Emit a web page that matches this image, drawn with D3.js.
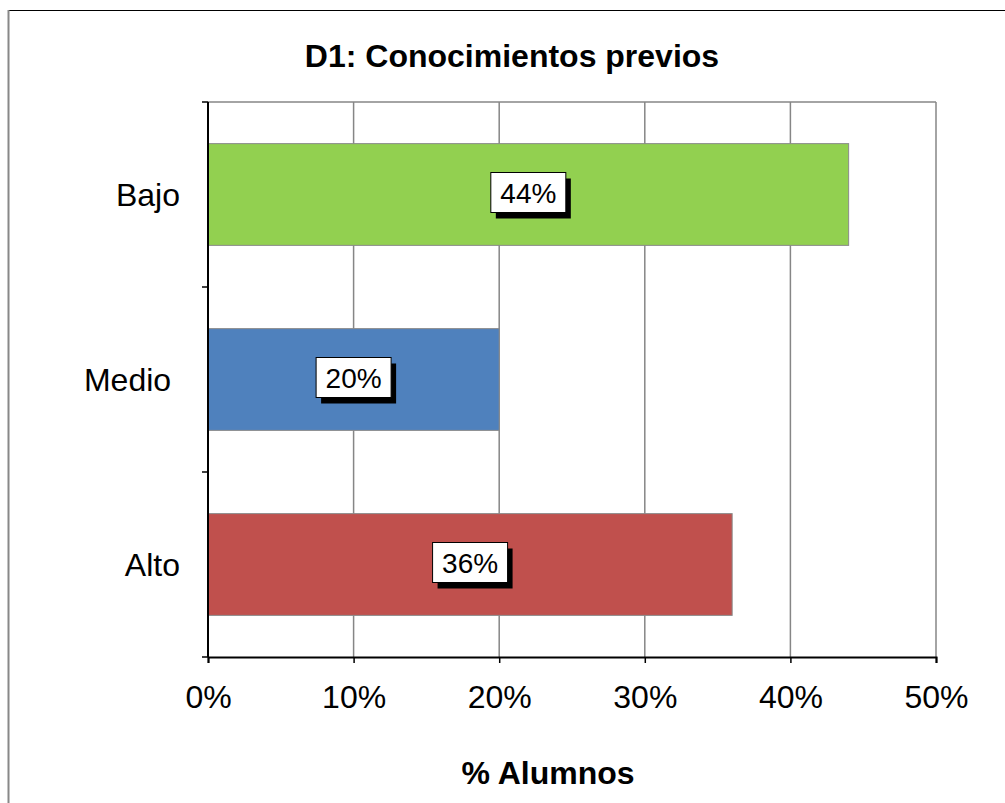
<!DOCTYPE html>
<html>
<head>
<meta charset="utf-8">
<script src="https://cdn.jsdelivr.net/npm/d3@7/dist/d3.min.js"></script>
<style>
  html, body { margin: 0; padding: 0; background: #fff; }
  svg { display: block; font-family: Arial, "Liberation Sans", sans-serif; }
</style>
</head>
<body>
<svg id="chart" width="1005" height="803"></svg>
<script>
// Student share per prior-knowledge level
const categories = ["Bajo", "Medio ", "Alto"];
const values = [0.44, 0.20, 0.36];
const barColors = ["#92D050", "#4F81BD", "#C0504D"];
const xTicks = [0, 0.1, 0.2, 0.3, 0.4, 0.5];
const titleText = "D1: Conocimientos previos";
const xAxisTitle = "% Alumnos";

const svg = d3.select("#chart");
const plot = { left: 208, right: 936, top: 102, bottom: 657 };
const axisFont = 32, labelFont = 28;

// outer chart frame
svg.append("line").attr("x1", 8).attr("x2", 1005).attr("y1", 10.5).attr("y2", 10.5)
  .attr("stroke", "#000").attr("stroke-width", 1);
svg.append("line").attr("x1", 8.5).attr("x2", 8.5).attr("y1", 10).attr("y2", 803)
  .attr("stroke", "#888").attr("stroke-width", 2);

const x = d3.scaleLinear().domain([0, 0.5]).range([plot.left, plot.right]);
const y = d3.scaleBand().domain(categories).range([plot.top, plot.bottom]).paddingInner(0.45).paddingOuter(0.225);

// gridlines
svg.append("g").selectAll("line").data(xTicks.slice(1)).join("line")
  .attr("x1", d => x(d)).attr("x2", d => x(d))
  .attr("y1", plot.top).attr("y2", plot.bottom)
  .attr("stroke", "#868686").attr("stroke-width", 1.5);
svg.append("line").attr("x1", plot.left).attr("x2", plot.right)
  .attr("y1", plot.top).attr("y2", plot.top)
  .attr("stroke", "#868686").attr("stroke-width", 1.5);

// bars
svg.append("g").selectAll("rect").data(categories).join("rect")
  .attr("x", x(0))
  .attr("y", d => y(d))
  .attr("width", (d, i) => x(values[i]) - x(0))
  .attr("height", y.bandwidth())
  .attr("fill", (d, i) => barColors[i])
  .attr("stroke", "#8a8a8a").attr("stroke-width", 1);

// axes
const xAxis = d3.axisBottom(x).tickValues(xTicks).tickFormat(d3.format(".0%")).tickSize(6).tickPadding(22);
const gx = svg.append("g").attr("transform", `translate(0,${plot.bottom})`).call(xAxis);
gx.select(".domain").attr("stroke", "#000").attr("stroke-width", 2);
gx.selectAll(".tick line").attr("stroke", "#000").attr("stroke-width", 1.5);
gx.selectAll(".tick text").attr("font-size", axisFont).attr("fill", "#000")
  .attr("font-family", "Arial, 'Liberation Sans', sans-serif");

const yBoundaries = d3.scaleLinear().domain([0, categories.length]).range([plot.top, plot.bottom]);
const gy = svg.append("g");
gy.append("line").attr("x1", plot.left).attr("x2", plot.left)
  .attr("y1", plot.top).attr("y2", plot.bottom)
  .attr("stroke", "#000").attr("stroke-width", 2);
gy.selectAll("line.tk").data(d3.range(categories.length + 1)).join("line")
  .attr("class", "tk")
  .attr("x1", plot.left - 6).attr("x2", plot.left)
  .attr("y1", d => yBoundaries(d)).attr("y2", d => yBoundaries(d))
  .attr("stroke", "#000").attr("stroke-width", 1.5);
gy.selectAll("text").data(categories).join("text")
  .attr("x", 180)
  .attr("y", d => y(d) + y.bandwidth() / 2)
  .attr("dy", "0.35em")
  .attr("text-anchor", "end")
  .attr("font-size", axisFont)
  .style("white-space", "pre")
  .text(d => d);

// value labels with drop shadow
const lbl = svg.append("g").selectAll("g").data(categories).join("g")
  .attr("transform", (d, i) => `translate(${(x(0) + x(values[i])) / 2},${y(d) + y.bandwidth() / 2 - 2})`);
const bw = 75, bh = 40;
lbl.append("rect").attr("x", -bw / 2 + 5).attr("y", -bh / 2 + 6).attr("width", bw).attr("height", bh)
  .attr("fill", "#000");
lbl.append("rect").attr("x", -bw / 2).attr("y", -bh / 2).attr("width", bw).attr("height", bh)
  .attr("fill", "#fff").attr("stroke", "#000").attr("stroke-width", 1);
lbl.append("text").attr("text-anchor", "middle").attr("dy", "0.36em")
  .attr("font-size", labelFont).attr("fill", "#000")
  .text((d, i) => d3.format(".0%")(values[i]));

// titles
svg.append("text").attr("x", 512).attr("y", 67).attr("text-anchor", "middle")
  .attr("font-size", axisFont).attr("font-weight", "bold").text(titleText);
svg.append("text").attr("x", 548).attr("y", 784).attr("text-anchor", "middle")
  .attr("font-size", axisFont).attr("font-weight", "bold").text(xAxisTitle);
</script>
</body>
</html>
